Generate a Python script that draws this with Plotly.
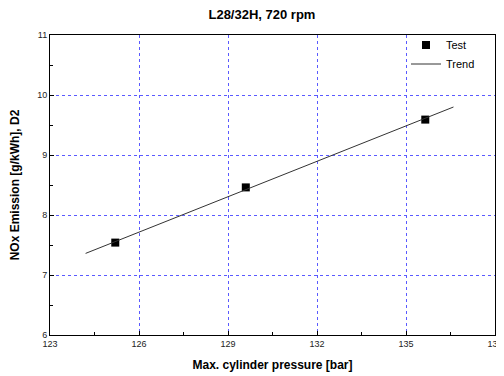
import plotly.graph_objects as go

# Data
test_x = [125.2, 129.6, 135.65]
test_y = [7.54, 8.46, 9.59]
trend_x = [124.2, 136.6]
trend_y = [7.36, 9.80]

x_ticks = [123, 126, 129, 132, 135, 138]
y_ticks = [6, 7, 8, 9, 10, 11]
x_minor = [124.5, 127.5, 130.5, 133.5, 136.5]
y_minor = [6.5, 7.5, 8.5, 9.5, 10.5]

FONT = "Liberation Sans"

fig = go.Figure()
fig.add_trace(go.Scatter(
    x=test_x, y=test_y, mode="markers", name="Test",
    marker=dict(symbol="square", size=8, color="black"),
))
fig.add_trace(go.Scatter(
    x=trend_x, y=trend_y, mode="lines", name="Trend",
    line=dict(color="#333333", width=1),
))

axis_common = dict(
    showline=True, linecolor="black", linewidth=1, mirror=True,
    ticks="inside", ticklen=4, tickcolor="black", zeroline=False,
    tickfont=dict(family=FONT, size=9, color="#222222"),
    showgrid=True, gridcolor="#5a5aff", griddash="dot", gridwidth=1,
    automargin=False,
)

fig.update_layout(
    width=496, height=368,
    margin=dict(l=42, r=9, t=27, b=41),
    paper_bgcolor="white", plot_bgcolor="white",
    title=dict(text="<b>L28/32H, 720 rpm</b>", x=0.512, xanchor="center",
               y=0.983, yanchor="middle",
               font=dict(family=FONT, size=13, color="black"),
               automargin=False),
    xaxis=dict(range=[123, 138], tickvals=x_ticks,
               ticktext=[str(v) for v in x_ticks],
               minor=dict(ticks="inside", ticklen=3, tickcolor="black",
                          tickvals=x_minor, showgrid=False),
               title=dict(text="<b>Max. cylinder pressure [bar]</b>", standoff=12,
                          font=dict(family=FONT, size=12, color="black")),
               **axis_common),
    yaxis=dict(range=[6, 11], tickvals=y_ticks,
               ticktext=[str(v) for v in y_ticks],
               minor=dict(ticks="inside", ticklen=3, tickcolor="black",
                          tickvals=y_minor, showgrid=False),
               title=dict(text="<b>NOx Emission [g/kWh], D2</b>", standoff=14,
                          font=dict(family=FONT, size=12, color="black")),
               **axis_common),
    legend=dict(x=0.80, y=1.015, xanchor="left", yanchor="top",
                bgcolor="rgba(255,255,255,0)", borderwidth=0,
                font=dict(family=FONT, size=11, color="black"),
                itemwidth=30, tracegroupgap=0),
    showlegend=True,
)

fig.write_html("out.html")
